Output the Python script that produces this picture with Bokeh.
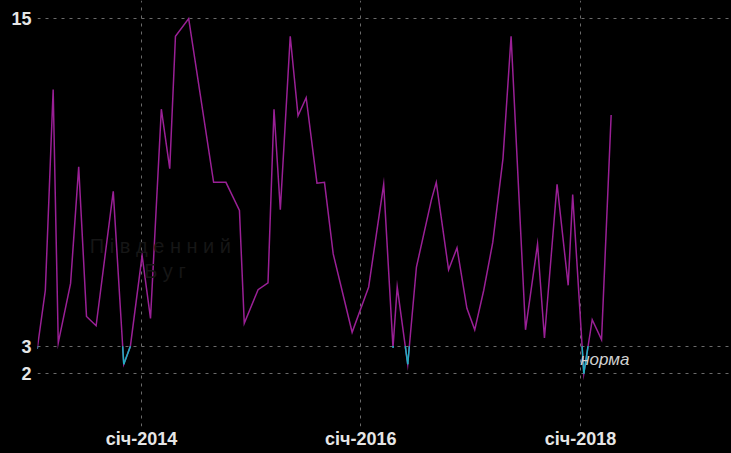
import numpy as np
import pandas as pd
from bokeh.plotting import figure
from bokeh.models import FixedTicker, Range1d, Label
from bokeh.embed import file_html
from bokeh.resources import INLINE

# ---- data ----
dates = [
    "2013-01-19", "2013-02-15", "2013-03-13", "2013-03-30", "2013-05-10",
    "2013-06-06", "2013-07-02", "2013-08-03", "2013-09-29", "2013-11-03",
    "2013-11-25", "2014-01-03", "2014-01-31", "2014-03-08", "2014-04-05",
    "2014-04-24", "2014-06-07", "2014-08-29", "2014-10-09", "2014-11-23",
    "2014-12-09", "2015-01-24", "2015-02-26", "2015-03-18", "2015-04-08",
    "2015-05-11", "2015-06-06", "2015-07-03", "2015-08-08", "2015-09-02",
    "2015-10-01", "2015-12-03", "2016-01-27", "2016-03-17", "2016-04-17",
    "2016-05-01", "2016-06-05", "2016-07-04", "2016-08-23", "2016-09-08",
    "2016-10-19", "2016-11-16", "2016-12-19", "2017-01-14", "2017-02-13",
    "2017-03-15", "2017-04-18", "2017-05-15", "2017-07-02", "2017-08-11",
    "2017-09-03", "2017-10-15", "2017-11-21", "2017-12-06", "2018-01-12",
    "2018-02-09", "2018-03-12", "2018-04-13",
]
values = [
    2.9, 5.05, 12.4, 3.12, 5.3, 9.57, 4.09, 3.75, 8.67, 2.34,
    3.0, 6.32, 4.02, 11.68, 9.5, 14.35, 15.0, 9.0, 9.0, 7.97,
    3.84, 5.07, 5.32, 11.68, 8.0, 14.35, 11.44, 12.1, 8.97, 9.0,
    6.38, 3.51, 5.17, 8.93, 2.95, 5.17, 2.34, 5.9, 8.37, 9.0,
    5.8, 6.6, 4.39, 3.6, 5.05, 6.8, 9.87, 14.35, 3.6, 6.74,
    3.3, 8.93, 5.23, 8.55, 2.0, 3.97, 3.24, 11.47,
]
norm_value = 3
y_ticks = [2, 3, 15]
x_tick_dates = ["2014-01-01", "2016-01-01", "2018-01-01"]
x_tick_labels = ["січ-2014", "січ-2016", "січ-2018"]
norm_label = "норма"
watermark = ["П і в д е н н и й", "Б у г"]

# ---- derived ----
x = pd.to_datetime(dates)
xs = x.values.astype("datetime64[ms]").astype(np.float64)
ys = np.array(values, dtype=float)

# pieces of the line that fall below the norm
cx0, cy0, cx1, cy1 = [], [], [], []
for i in range(len(ys) - 1):
    a, b = ys[i], ys[i + 1]
    xa, xb = xs[i], xs[i + 1]
    if a < norm_value and b < norm_value:
        cx0.append(xa); cy0.append(a); cx1.append(xb); cy1.append(b)
    elif a < norm_value <= b:
        t = (norm_value - a) / (b - a)
        cx0.append(xa); cy0.append(a); cx1.append(xa + t * (xb - xa)); cy1.append(norm_value)
    elif b < norm_value <= a:
        t = (norm_value - a) / (b - a)
        cx0.append(xa + t * (xb - xa)); cy0.append(norm_value); cx1.append(xb); cy1.append(b)

tick_ms = [float(pd.Timestamp(d).value // 10**6) for d in x_tick_dates]

# x range: 0.30048 px per day, frame 694 px wide starting at x=37
day_ms = 86400000.0
px_per_day = 0.30048
x_start = tick_ms[0] - (141 - 37) / px_per_day * day_ms
x_end = x_start + 694 / px_per_day * day_ms

BG = "#000000"
MAGENTA = "#9a2096"
CYAN = "#1fb0c0"
GRID = "#6a6a6a"
TXT = "#e6e6e6"

p = figure(width=731, height=453, x_axis_type="datetime",
           output_backend="svg", toolbar_location=None,
           x_range=Range1d(x_start, x_end), y_range=Range1d(0.06, 15.66),
           min_border_left=37, min_border_right=0, min_border_top=0,
           min_border_bottom=27)
p.background_fill_color = BG
p.border_fill_color = BG
p.outline_line_color = None

# faint watermark
p.add_layout(Label(x=pd.Timestamp("2014-03-05"), y=6.67, text=watermark[0],
                   text_align="center", text_baseline="middle",
                   text_color="#161616", text_font_size="20px",
                   text_font="Liberation Sans"))
p.add_layout(Label(x=pd.Timestamp("2014-03-20"), y=5.76, text=watermark[1],
                   text_align="center", text_baseline="middle",
                   text_color="#161616", text_font_size="20px",
                   text_font="Liberation Sans"))

p.line(xs, ys, line_color=MAGENTA, line_width=1.5, line_join="miter")
p.segment(cx0, cy0, cx1, cy1, line_color=CYAN, line_width=1.5, line_cap="butt")

p.add_layout(Label(x=pd.Timestamp("2017-12-31"), y=2.5, text=norm_label,
                   text_align="left", text_baseline="middle",
                   text_color="#d0d0d0", text_font_style="italic",
                   text_font_size="17px", text_font="Liberation Sans"))

# axes
p.xaxis.ticker = FixedTicker(ticks=tick_ms)
p.xaxis.major_label_overrides = {t: l for t, l in zip(tick_ms, x_tick_labels)}
p.yaxis.ticker = FixedTicker(ticks=y_ticks)
for ax in (p.xaxis, p.yaxis):
    ax.axis_line_color = None
    ax.major_tick_line_color = None
    ax.minor_tick_line_color = None
    ax.major_tick_out = 0
    ax.major_tick_in = 0
    ax.minor_tick_out = 0
    ax.minor_tick_in = 0
    ax.major_label_text_color = TXT
    ax.major_label_text_font = "Liberation Sans"
    ax.major_label_text_font_style = "bold"
    ax.major_label_text_font_size = "18px"
p.xaxis.major_label_standoff = 2
p.yaxis.major_label_standoff = 6

for g in (p.xgrid, p.ygrid):
    g.grid_line_color = GRID
    g.grid_line_dash = "3 5"
    g.grid_line_width = 1

html = file_html(p, INLINE)
html = html.replace("<head>", "<head><style>html, body { background: #000000; }</style>", 1)
open("out.html", "w").write(html)
